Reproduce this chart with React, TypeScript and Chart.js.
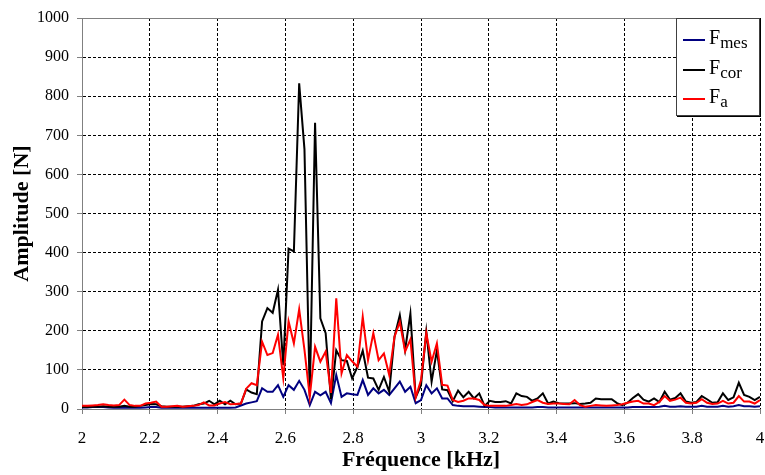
import React, { useEffect, useRef } from "react";
import { Chart, registerables } from "chart.js";

Chart.register(...registerables);

// Frequency grid (kHz): samples every 1/64 kHz from 2 kHz
const FREQ_START_KHZ = 2;
const FREQ_STEP_KHZ = 1 / 64;

// Amplitudes [N]
const F_MES = [
  4, 4, 5, 5, 5, 4, 3, 3, 4, 3, 3, 3, 4, 5, 5, 3, 3, 3, 3, 3,
  3, 3, 3, 3, 3, 3, 3, 3, 3, 4, 9, 14, 17, 20, 53, 44, 44, 61, 31, 61,
  49, 72, 49, 10, 44, 35, 44, 15, 87, 31, 40, 38, 36, 74, 36, 53, 40, 49, 36, 53,
  70, 44, 57, 15, 23, 61, 40, 53, 27, 27, 10, 8, 7, 7, 7, 6, 5, 5, 4, 4,
  4, 4, 4, 4, 4, 4, 5, 5, 4, 4, 4, 4, 4, 4, 4, 4, 4, 4, 4, 4,
  4, 4, 4, 4, 5, 5, 5, 5, 5, 6, 8, 6, 6, 7, 6, 6, 6, 8, 6, 6,
  6, 8, 6, 7, 10, 7, 7, 6, 7,
];

const F_COR = [
  5, 5, 6, 6, 7, 6, 6, 6, 8, 6, 6, 8, 10, 13, 12, 7, 6, 6, 6, 6,
  7, 8, 12, 14, 21, 12, 21, 12, 21, 12, 14, 50, 42, 38, 224, 258, 246, 305, 112, 410,
  403, 833, 664, 32, 732, 232, 194, 25, 150, 125, 123, 78, 108, 149, 80, 78, 49, 82, 44, 185,
  240, 151, 244, 30, 61, 198, 70, 150, 50, 48, 20, 47, 30, 44, 27, 40, 8, 21, 18, 18,
  20, 14, 40, 33, 31, 21, 27, 40, 14, 19, 15, 14, 14, 15, 13, 14, 16, 27, 25, 25,
  25, 15, 10, 16, 28, 38, 24, 19, 27, 18, 44, 24, 28, 40, 19, 16, 18, 33, 25, 16,
  17, 40, 23, 30, 67, 36, 31, 23, 31,
];

const F_A = [
  8, 8, 9, 10, 12, 10, 9, 10, 24, 10, 8, 8, 14, 16, 19, 6, 6, 7, 8, 6,
  7, 8, 10, 17, 9, 9, 14, 18, 12, 13, 14, 52, 66, 61, 172, 138, 143, 190, 79, 224,
  168, 255, 151, 31, 159, 121, 147, 41, 283, 91, 138, 122, 108, 236, 125, 194, 125, 142, 87, 185,
  223, 147, 178, 30, 74, 194, 121, 168, 62, 60, 23, 18, 21, 27, 27, 23, 10, 8, 8, 8,
  8, 10, 13, 10, 12, 18, 23, 16, 13, 14, 14, 13, 12, 23, 10, 6, 8, 10, 9, 8,
  9, 10, 12, 16, 19, 21, 14, 14, 10, 18, 33, 21, 24, 29, 16, 14, 16, 25, 16, 13,
  14, 21, 14, 16, 33, 19, 19, 14, 23,
];

const X_MIN = 2;
const X_MAX = 4;
const X_STEP = 0.2;
const Y_MIN = 0;
const Y_MAX = 1000;
const Y_STEP = 100;

const SERIES_NAMES = ["mes", "cor", "a"];
const SERIES_COLORS = ["#000080", "#000000", "#ff0000"];

const SERIF = "'Liberation Serif', 'Times New Roman', serif";

function toPoints(values: number[]) {
  return values.map((v, i) => ({ x: FREQ_START_KHZ + i * FREQ_STEP_KHZ, y: v }));
}

const framePlugin = {
  id: "frameTop",
  beforeDatasetsDraw(chart: any) {
    const { ctx, chartArea } = chart;
    ctx.save();
    ctx.strokeStyle = "#808080";
    ctx.lineWidth = 1;
    ctx.beginPath();
    ctx.moveTo(chartArea.left, Math.round(chartArea.top) + 0.5);
    ctx.lineTo(chartArea.right, Math.round(chartArea.top) + 0.5);
    ctx.stroke();
    ctx.restore();
  },
};

export default function App() {
  const canvasRef = useRef<HTMLCanvasElement | null>(null);

  useEffect(() => {
    const canvas = canvasRef.current;
    if (!canvas) return;
    const seriesValues = [F_MES, F_COR, F_A];
    const chart = new Chart(canvas, {
      type: "line",
      data: {
        datasets: seriesValues.map((vals, k) => ({
          label: "F" + SERIES_NAMES[k],
          data: toPoints(vals),
          borderColor: SERIES_COLORS[k],
          backgroundColor: SERIES_COLORS[k],
          borderWidth: 2,
          pointRadius: 0,
          tension: 0,
          fill: false,
          order: 2 - k,
        })),
      },
      options: {
        animation: false,
        responsive: false,
        devicePixelRatio: 1,
        layout: { padding: { left: 0, right: 5, top: 18, bottom: 0 } },
        plugins: {
          legend: { display: false },
          tooltip: { enabled: false },
        },
        scales: {
          x: {
            type: "linear",
            min: X_MIN,
            max: X_MAX,
            afterFit: (s: any) => {
              s.height = 66;
              s.paddingLeft = 0;
              s.paddingRight = 0;
            },
            ticks: {
              stepSize: X_STEP,
              autoSkip: false,
              maxRotation: 0,
              padding: 14,
              color: "#000",
              font: { family: SERIF, size: 17 },
              callback: (v: any) => String(Math.round(Number(v) * 10) / 10),
            },
            grid: {
              color: (c: any) =>
                c.tick && Math.abs(c.tick.value - X_MIN) < 1e-6 ? "rgba(0,0,0,0)" : "#000",
              lineWidth: 1,
              tickLength: 5,
              tickColor: "#808080",
            },
            border: { color: "#808080", width: 1, dash: [3, 2] },
            title: {
              display: true,
              text: "Fréquence [kHz]",
              color: "#000",
              font: { family: SERIF, size: 22, weight: "bold" },
              padding: { top: 0, bottom: 1 },
            },
          },
          y: {
            type: "linear",
            min: Y_MIN,
            max: Y_MAX,
            afterFit: (s: any) => {
              s.width = 82;
            },
            ticks: {
              stepSize: Y_STEP,
              padding: 8,
              color: "#000",
              font: { family: SERIF, size: 16 },
              callback: (v: any) => String(Math.round(Number(v))),
            },
            grid: {
              color: (c: any) =>
                c.tick && (c.tick.value === Y_MIN || c.tick.value === Y_MAX)
                  ? "rgba(0,0,0,0)"
                  : "#000",
              lineWidth: 1,
              tickLength: 5,
              tickColor: "#808080",
            },
            border: { color: "#808080", width: 1, dash: [3, 2] },
            title: {
              display: true,
              text: "Amplitude [N]",
              color: "#000",
              font: { family: SERIF, size: 22, weight: "bold" },
              padding: { top: 9, bottom: 0 },
            },
          },
        },
      },
      plugins: [framePlugin],
    } as any);
    return () => chart.destroy();
  }, []);

  const rowTops = [8, 37.5, 67];

  return (
    <div
      style={{
        position: "fixed",
        left: 0,
        top: 0,
        width: 765,
        height: 475,
        background: "#fff",
      }}
    >
      <canvas ref={canvasRef} width={765} height={475} style={{ display: "block" }} />
      <div
        style={{
          position: "absolute",
          left: 676,
          top: 18,
          width: 84,
          height: 98,
          boxSizing: "border-box",
          border: "1px solid #404040",
          boxShadow: "1px 1px 0 #000",
          background: "#fff",
          fontFamily: SERIF,
          color: "#000",
        }}
      >
        {SERIES_NAMES.map((name, k) => (
          <React.Fragment key={name}>
            <div
              style={{
                position: "absolute",
                left: 6,
                top: rowTops[k] + 12,
                width: 22,
                height: 0,
                borderTop: `2px solid ${SERIES_COLORS[k]}`,
              }}
            />
            <div
              style={{
                position: "absolute",
                left: 32,
                top: rowTops[k],
                fontSize: 20,
                lineHeight: "20px",
                whiteSpace: "nowrap",
              }}
            >
              F
              <span style={{ fontSize: 17, position: "relative", top: 4 }}>{name}</span>
            </div>
          </React.Fragment>
        ))}
      </div>
    </div>
  );
}
